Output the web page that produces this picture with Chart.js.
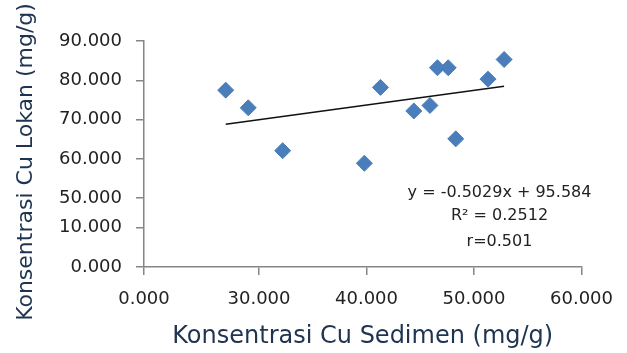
<!DOCTYPE html>
<html>
<head>
<meta charset="utf-8">
<script src="https://cdn.jsdelivr.net/npm/chart.js@4.4.0/dist/chart.umd.min.js"></script>
<style>
  html, body { margin: 0; padding: 0; background: #fff; }
  #wrap { width: 627px; height: 353px; }
</style>
</head>
<body>
<div id="wrap"><canvas id="chart"></canvas></div>
<script>
// data
const sedimen = [26.9, 29.0, 32.2, 39.8, 41.3, 44.4, 45.9, 46.6, 47.6, 48.3, 51.3, 52.8];
const lokan   = [77.5, 73.0, 62.1, 58.9, 78.2, 72.2, 73.6, 83.2, 83.2, 65.1, 80.3, 85.3];

// trend line ends
const trendX = [26.9, 52.8];
const trendY = [68.8, 78.5];

// axis ticks (labels on the original axes are not evenly valued)
const xTickValues = [19.3, 30, 40, 50, 60];
const xTickLabels = ['0.000', '30.000', '40.000', '50.000', '60.000'];
const yTickValues = [32.5, 42.6, 50, 60, 70, 80, 90];
const yTickLabels = ['0.000', '10.000', '50.000', '60.000', '70.000', '80.000', '90.000'];

const yTitle = 'Konsentrasi Cu Lokan (mg/g)';
const eqLines = ['y = -0.5029x + 95.584', 'R\u00b2 = 0.2512', 'r=0.501'];

const axisGray = '#868686';
const titleColor = '#1f3450';

// teks persamaan regresi + judul sumbu y
const eqPlugin = {
  id: 'eq',
  afterDraw(chart) {
    const ctx = chart.ctx;
    const a = chart.chartArea;
    ctx.save();
    ctx.fillStyle = '#222';
    ctx.font = '16px "DejaVu Sans"';
    ctx.textAlign = 'center';
    ctx.textBaseline = 'middle';
    const cx = a.right - 82;
    const ys = [a.bottom - 74, a.bottom - 51, a.bottom - 25];
    eqLines.forEach((t, i) => ctx.fillText(t, cx, ys[i]));

    ctx.translate(26, (a.top + a.bottom) / 2 + 8);
    ctx.rotate(-Math.PI / 2);
    ctx.fillStyle = titleColor;
    ctx.font = '22px "DejaVu Sans"';
    ctx.fillText(yTitle, 0, 0);
    ctx.restore();
  }
};

const points = sedimen.map((x, i) => ({ x, y: lokan[i] }));
const trend = trendX.map((x, i) => ({ x, y: trendY[i] }));

new Chart(document.getElementById('chart'), {
  type: 'scatter',
  data: {
    datasets: [
      {
        data: points,
        backgroundColor: '#4a7ebb',
        borderColor: '#4a7ebb',
        pointStyle: 'rectRot',
        pointRadius: 8,
        pointHoverRadius: 8
      },
      {
        type: 'line',
        data: trend,
        borderColor: '#111',
        borderWidth: 1.5,
        pointRadius: 0,
        fill: false
      }
    ]
  },
  options: {
    responsive: true,
    maintainAspectRatio: false,
    animation: false,
    layout: { padding: { left: 0, right: 42, top: 41, bottom: 0 } },
    plugins: { legend: { display: false }, tooltip: { enabled: false } },
    scales: {
      x: {
        type: 'linear',
        min: xTickValues[0],
        max: 60,
        afterBuildTicks: s => { s.ticks = xTickValues.map(v => ({ value: v })); },
        afterFit: s => { s.height = 86; },
        ticks: {
          callback: (v, i) => xTickLabels[i],
          color: '#222',
          font: { family: 'DejaVu Sans', size: 18 },
          padding: 14,
          maxRotation: 0,
          autoSkip: false
        },
        grid: { drawOnChartArea: false, drawTicks: true, tickLength: 8, color: axisGray, lineWidth: 1.5 },
        border: { color: axisGray, width: 1.5 },
        title: {
          display: true,
          text: 'Konsentrasi Cu Sedimen (mg/g)',
          color: titleColor,
          font: { family: 'DejaVu Sans', size: 24 },
          padding: { top: 0, bottom: 2 }
        }
      },
      y: {
        type: 'linear',
        min: yTickValues[0],
        max: 90,
        afterBuildTicks: s => { s.ticks = yTickValues.map(v => ({ value: v })); },
        afterFit: s => { s.width = 144; },
        ticks: {
          callback: (v, i) => yTickLabels[i],
          color: '#222',
          font: { family: 'DejaVu Sans', size: 18 },
          padding: 14,
          autoSkip: false
        },
        grid: { drawOnChartArea: false, drawTicks: true, tickLength: 8, color: axisGray, lineWidth: 1.5 },
        border: { color: axisGray, width: 1.5 }
      }
    }
  },
  plugins: [eqPlugin]
});
</script>
</body>
</html>
